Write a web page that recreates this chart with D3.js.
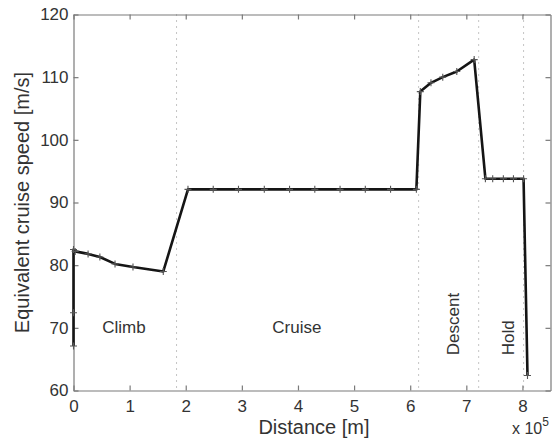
<!DOCTYPE html>
<html>
<head>
<meta charset="utf-8">
<script src="https://cdn.jsdelivr.net/npm/d3@7"></script>
<style>
  html, body { margin: 0; padding: 0; background: #fff; }
  svg { display: block; font-family: "Liberation Sans", Arial, Helvetica, sans-serif; }
</style>
</head>
<body>
<svg id="chart" width="554" height="445"></svg>
<script>
// Flight profile: distance flown [m] vs equivalent cruise speed [m/s]
const distance = [0, 0, 0, 3000, 26000, 47000, 74000, 106000, 160000,
  204000, 249000, 294000, 340000, 385000, 430000, 475000, 520000, 565000, 611000,
  618000, 637000, 658000, 683000, 714000,
  734000, 747000, 766000, 784000, 802000, 809000];
const speed = [67.1, 72.4, 82.5, 82.2, 81.8, 81.3, 80.2, 79.7, 79.0,
  92.1, 92.1, 92.1, 92.1, 92.1, 92.1, 92.1, 92.1, 92.1, 92.1,
  107.7, 109.1, 110.0, 110.9, 112.8,
  93.8, 93.8, 93.8, 93.8, 93.8, 62.4];

// Phase boundaries [m]
const phaseBounds = [183600, 615000, 722000, 802000];
// Phase names and their label positions (distance [m], speed [m/s], rotated?)
const phaseNames = ["Climb", "Cruise", "Descent", "Hold"];
const phaseLabelX = [90000, 398000, 677000, 775000];
const phaseLabelY = [70, 70, 70.6, 68.4];
const phaseRotated = [false, false, true, true];

const xTicks = [0, 100000, 200000, 300000, 400000, 500000, 600000, 700000, 800000];
const xTickLabels = ["0", "1", "2", "3", "4", "5", "6", "7", "8"];
const yTicks = [60, 70, 80, 90, 100, 110, 120];

const svg = d3.select("#chart");
const plotLeft = 73.5, plotRight = 550.5, plotTop = 14.5, plotBottom = 390.5;

const x = d3.scaleLinear().domain([0, 850000]).range([plotLeft, plotRight]);
const y = d3.scaleLinear().domain([60, 120]).range([plotBottom, plotTop]);

const axisColor = "#7a7a7a";
const textColor = "#333";

// Phase separators
svg.append("g").selectAll("line").data(phaseBounds).join("line")
  .attr("x1", d => x(d)).attr("x2", d => x(d))
  .attr("y1", plotTop).attr("y2", plotBottom)
  .attr("stroke", "#8a8a8a").attr("stroke-width", 1)
  .attr("stroke-dasharray", "1,5");

// Axes with inward ticks on all four sides
function styleAxis(g) {
  g.select(".domain").attr("stroke", axisColor).attr("stroke-width", 1.2);
  g.selectAll(".tick line").attr("stroke", axisColor).attr("stroke-width", 1.2);
  g.selectAll(".tick text").attr("fill", textColor).attr("font-size", 17)
    .attr("font-family", "Liberation Sans, Arial, sans-serif");
}

const xAxis = svg.append("g").attr("transform", `translate(0,${plotBottom})`)
  .call(d3.axisBottom(x).tickValues(xTicks).tickSize(-5).tickPadding(9)
    .tickFormat((d, i) => xTickLabels[i]).tickSizeOuter(0));
styleAxis(xAxis);

const xAxisTop = svg.append("g").attr("transform", `translate(0,${plotTop})`)
  .call(d3.axisTop(x).tickValues(xTicks).tickSize(-5).tickFormat("").tickSizeOuter(0));
styleAxis(xAxisTop);

const yAxis = svg.append("g").attr("transform", `translate(${plotLeft},0)`)
  .call(d3.axisLeft(y).tickValues(yTicks).tickSize(-5).tickPadding(5).tickSizeOuter(0));
styleAxis(yAxis);

const yAxisRight = svg.append("g").attr("transform", `translate(${plotRight},0)`)
  .call(d3.axisRight(y).tickValues(yTicks).tickSize(-5).tickFormat("").tickSizeOuter(0));
styleAxis(yAxisRight);

// Speed profile
const pts = distance.map((d, i) => [d, speed[i]]);
const line = d3.line().x(d => x(d[0])).y(d => y(d[1]));

svg.append("path").datum(pts)
  .attr("d", line)
  .attr("fill", "none")
  .attr("stroke", "#151515")
  .attr("stroke-width", 2.6)
  .attr("stroke-linejoin", "round");

// '+' markers at each sample
const m = 3.5;
svg.append("g").selectAll("path").data(pts).join("path")
  .attr("d", d => {
    const cx = x(d[0]), cy = y(d[1]);
    return `M${cx - m},${cy}H${cx + m}M${cx},${cy - m}V${cy + m}`;
  })
  .attr("stroke", "#555").attr("stroke-width", 1.1).attr("fill", "none");

// Phase labels
svg.append("g").selectAll("text").data(phaseNames).join("text")
  .attr("transform", (d, i) => {
    const tx = x(phaseLabelX[i]), ty = y(phaseLabelY[i]);
    return phaseRotated[i] ? `translate(${tx},${ty}) rotate(-90)` : `translate(${tx},${ty})`;
  })
  .attr("text-anchor", "middle")
  .attr("dominant-baseline", "central")
  .attr("font-size", 17)
  .attr("fill", textColor)
  .text(d => d);

// Axis titles
svg.append("text")
  .attr("x", (plotLeft + plotRight) / 2 + 2).attr("y", 427)
  .attr("text-anchor", "middle").attr("dominant-baseline", "central")
  .attr("font-size", 20).attr("fill", textColor)
  .text("Distance [m]");

svg.append("text")
  .attr("transform", `translate(22,${(plotTop + plotBottom) / 2}) rotate(-90)`)
  .attr("text-anchor", "middle").attr("dominant-baseline", "central")
  .attr("font-size", 20).attr("fill", textColor)
  .text("Equivalent cruise speed [m/s]");

// Exponent label for the distance axis
const expo = svg.append("text")
  .attr("x", 512).attr("y", 434)
  .attr("font-size", 16).attr("fill", textColor);
expo.append("tspan").text("x 10");
expo.append("tspan").attr("font-size", 12).attr("dy", -8).text("5");
</script>
</body>
</html>
